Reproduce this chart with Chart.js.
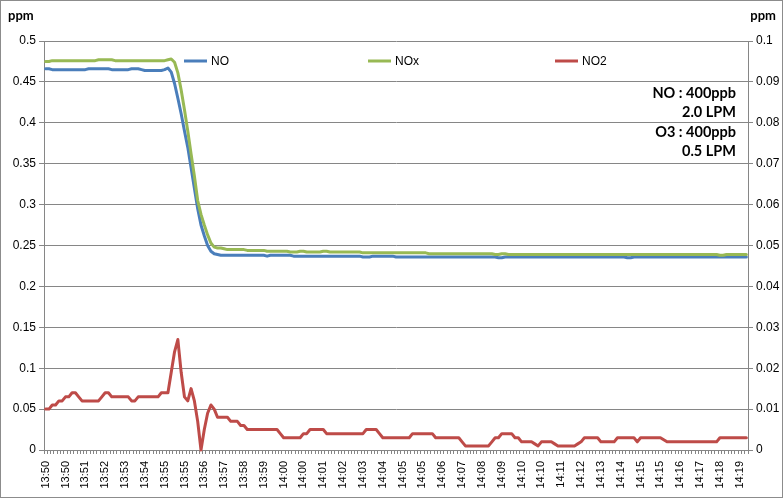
<!DOCTYPE html>
<html>
<head>
<meta charset="utf-8">
<script src="https://cdn.jsdelivr.net/npm/chart.js@4/dist/chart.umd.min.js"></script>
<style>
html, body { margin: 0; padding: 0; background: #fff; }
#wrap { width: 783px; height: 498px; box-sizing: border-box; border: 1px solid #8c8c8c; }
canvas { display: block; }
</style>
</head>
<body>
<div id="wrap"><canvas id="chart" width="781" height="496"></canvas></div>
<script>
// one label every 6 samples
const tickLabels = ['13:50','13:50','13:51','13:52','13:53','13:54','13:55','13:55','13:56','13:57','13:58','13:59',
	'14:00','14:00','14:01','14:02','14:03','14:04','14:05','14:05','14:06','14:07','14:08','14:09',
	'14:10','14:10','14:11','14:12','14:13','14:14','14:15','14:15','14:16','14:17','14:18','14:19'];
const samplesPerLabel = 6;

const noValues = [
	0.466,0.466,0.465,0.465,0.465,0.465,0.465,0.465,0.465,0.465,
	0.465,0.465,0.465,0.466,0.466,0.466,0.466,0.466,0.466,0.466,
	0.465,0.465,0.465,0.465,0.465,0.465,0.466,0.466,0.466,0.465,
	0.464,0.464,0.464,0.464,0.464,0.464,0.465,0.467,0.462,0.448,
	0.430,0.411,0.390,0.370,0.345,0.320,0.295,0.275,0.262,0.250,
	0.243,0.240,0.239,0.238,0.238,0.238,0.238,0.238,0.238,0.238,
	0.238,0.238,0.238,0.238,0.238,0.238,0.238,0.237,0.238,0.238,
	0.238,0.238,0.238,0.238,0.238,0.237,0.237,0.237,0.237,0.237,
	0.237,0.237,0.237,0.237,0.237,0.237,0.237,0.237,0.237,0.237,
	0.237,0.237,0.237,0.237,0.237,0.237,0.236,0.236,0.236,0.237,
	0.237,0.237,0.237,0.237,0.237,0.237,0.236,0.236,0.236,0.236,
	0.236,0.236,0.236,0.236,0.236,0.236,0.236,0.236,0.236,0.236,
	0.236,0.236,0.236,0.236,0.236,0.236,0.236,0.236,0.236,0.236,
	0.236,0.236,0.236,0.236,0.236,0.236,0.236,0.235,0.235,0.236,
	0.236,0.236,0.236,0.236,0.236,0.236,0.236,0.236,0.236,0.236,
	0.236,0.236,0.236,0.236,0.236,0.236,0.236,0.236,0.236,0.236,
	0.236,0.236,0.236,0.236,0.236,0.236,0.236,0.236,0.236,0.236,
	0.236,0.236,0.236,0.236,0.236,0.236,0.235,0.235,0.236,0.236,
	0.236,0.236,0.236,0.236,0.236,0.236,0.236,0.236,0.236,0.236,
	0.236,0.236,0.236,0.236,0.236,0.236,0.236,0.236,0.236,0.236,
	0.236,0.236,0.236,0.236,0.236,0.236,0.236,0.236,0.236,0.236,
	0.236,0.236,0.236
];

const noxValues = [
	0.475,0.475,0.476,0.476,0.476,0.476,0.476,0.476,0.476,0.476,
	0.476,0.476,0.476,0.476,0.476,0.476,0.477,0.477,0.477,0.477,
	0.477,0.476,0.476,0.476,0.476,0.476,0.476,0.476,0.476,0.476,
	0.476,0.476,0.476,0.476,0.476,0.476,0.476,0.477,0.478,0.474,
	0.461,0.440,0.416,0.390,0.362,0.335,0.305,0.288,0.275,0.263,
	0.253,0.248,0.247,0.247,0.246,0.245,0.245,0.245,0.245,0.245,
	0.245,0.244,0.244,0.244,0.244,0.244,0.244,0.243,0.243,0.243,
	0.243,0.243,0.243,0.243,0.242,0.242,0.242,0.243,0.243,0.242,
	0.242,0.242,0.242,0.242,0.243,0.243,0.242,0.242,0.242,0.242,
	0.242,0.242,0.242,0.242,0.242,0.242,0.241,0.241,0.241,0.241,
	0.241,0.241,0.241,0.241,0.241,0.241,0.241,0.241,0.241,0.241,
	0.241,0.241,0.241,0.241,0.241,0.241,0.240,0.240,0.240,0.240,
	0.240,0.240,0.240,0.240,0.240,0.240,0.240,0.240,0.240,0.240,
	0.240,0.240,0.240,0.240,0.240,0.240,0.239,0.239,0.240,0.240,
	0.239,0.239,0.239,0.239,0.239,0.239,0.239,0.239,0.239,0.239,
	0.239,0.239,0.239,0.239,0.239,0.239,0.239,0.239,0.239,0.239,
	0.239,0.239,0.239,0.239,0.239,0.239,0.239,0.239,0.239,0.239,
	0.239,0.239,0.239,0.239,0.239,0.239,0.239,0.239,0.239,0.239,
	0.239,0.239,0.239,0.239,0.239,0.239,0.239,0.239,0.239,0.239,
	0.239,0.239,0.239,0.239,0.239,0.239,0.239,0.239,0.239,0.239,
	0.239,0.239,0.239,0.239,0.238,0.238,0.239,0.239,0.239,0.239,
	0.239,0.239,0.239
];

// NO2 is read on the right axis
const no2Values = [
	0.010,0.010,0.011,0.011,0.012,0.012,0.013,0.013,0.014,0.014,
	0.013,0.012,0.012,0.012,0.012,0.012,0.012,0.013,0.014,0.014,
	0.013,0.013,0.013,0.013,0.013,0.013,0.012,0.012,0.013,0.013,
	0.013,0.013,0.013,0.013,0.013,0.014,0.014,0.014,0.019,0.024,
	0.027,0.019,0.013,0.012,0.015,0.012,0.007,0.000,0.005,0.009,
	0.011,0.010,0.008,0.008,0.008,0.008,0.007,0.007,0.007,0.006,
	0.006,0.005,0.005,0.005,0.005,0.005,0.005,0.005,0.005,0.005,
	0.005,0.004,0.003,0.003,0.003,0.003,0.003,0.003,0.004,0.004,
	0.005,0.005,0.005,0.005,0.005,0.004,0.004,0.004,0.004,0.004,
	0.004,0.004,0.004,0.004,0.004,0.004,0.004,0.005,0.005,0.005,
	0.005,0.004,0.003,0.003,0.003,0.003,0.003,0.003,0.003,0.003,
	0.003,0.004,0.004,0.004,0.004,0.004,0.004,0.004,0.003,0.003,
	0.003,0.003,0.003,0.003,0.003,0.003,0.002,0.001,0.001,0.001,
	0.001,0.001,0.001,0.001,0.001,0.002,0.003,0.003,0.004,0.004,
	0.004,0.004,0.003,0.003,0.002,0.002,0.002,0.002,0.0015,0.001,
	0.002,0.002,0.002,0.002,0.0015,0.001,0.001,0.001,0.001,0.001,
	0.001,0.0015,0.002,0.003,0.003,0.003,0.003,0.003,0.002,0.002,
	0.002,0.002,0.002,0.003,0.003,0.003,0.003,0.003,0.003,0.002,
	0.003,0.003,0.003,0.003,0.003,0.003,0.003,0.0025,0.002,0.002,
	0.002,0.002,0.002,0.002,0.002,0.002,0.002,0.002,0.002,0.002,
	0.002,0.002,0.002,0.002,0.003,0.003,0.003,0.003,0.003,0.003,
	0.003,0.003,0.003
];

const noteLines = ['NO : 400ppb', '2.0 LPM', 'O3 : 400ppb', '0.5 LPM'];

const categories = noValues.map((v, i) =>
	i % samplesPerLabel === 0 && tickLabels[i / samplesPerLabel] ? tickLabels[i / samplesPerLabel] : '');

const gridGray = '#868686';
const xFont = { family: "'Liberation Sans', Arial, sans-serif", size: 11 };
const yFont = { family: "'Liberation Sans', Arial, sans-serif", size: 12 };

// legend inside the plot, unit titles and the test conditions note
const overlay = {
	id: 'overlay',
	afterDraw(chart) {
		const ctx = chart.ctx;
		const area = chart.chartArea;
		ctx.save();
		ctx.fillStyle = '#000';
		ctx.textBaseline = 'middle';

		ctx.font = "bold 13px Lato, 'Open Sans', sans-serif";
		ctx.textAlign = 'left';
		ctx.fillText('ppm', 7, 15);
		ctx.textAlign = 'right';
		ctx.fillText('ppm', 775, 15);

		const legendX = [140, 324, 511];
		ctx.font = "12px 'Liberation Sans', Arial, sans-serif";
		ctx.textAlign = 'left';
		chart.data.datasets.forEach((ds, i) => {
			const x = area.left + legendX[i];
			const y = 60;
			ctx.strokeStyle = ds.borderColor;
			ctx.lineWidth = 3;
			ctx.beginPath();
			ctx.moveTo(x, y);
			ctx.lineTo(x + 23, y);
			ctx.stroke();
			ctx.fillText(ds.label, x + 27, y + 1);
		});

		ctx.font = "bold 14.5px Lato, 'Open Sans', sans-serif";
		ctx.textAlign = 'right';
		const noteY = [92, 111.5, 131, 150];
		noteLines.forEach((t, i) => ctx.fillText(t, 735, noteY[i]));
		ctx.restore();
	}
};

new Chart(document.getElementById('chart'), {
	type: 'line',
	data: {
		labels: categories,
		datasets: [
			{ label: 'NO', data: noValues, yAxisID: 'y', borderColor: '#4a7ebb', order: 3 },
			{ label: 'NOx', data: noxValues, yAxisID: 'y', borderColor: '#98b954', order: 2 },
			{ label: 'NO2', data: no2Values, yAxisID: 'y1', borderColor: '#be4b48', order: 1 },
		],
	},
	options: {
		responsive: false,
		animation: false,
		layout: { padding: { top: 40, left: 0, right: 0, bottom: 0 } },
		elements: {
			point: { radius: 0 },
			line: { borderWidth: 3, tension: 0, borderJoinStyle: 'round', borderCapStyle: 'round', fill: false },
		},
		datasets: { line: { clip: false } },
		plugins: {
			legend: { display: false },
			tooltip: { enabled: false },
		},
		scales: {
			x: {
				offset: true,
				afterFit(scale) { scale.height = 47; },
				grid: { offset: true, drawOnChartArea: false, tickLength: 4, color: gridGray },
				border: { color: gridGray },
				ticks: {
					autoSkip: false,
					minRotation: 90,
					maxRotation: 90,
					padding: 7,
					color: '#000',
					font: xFont,
				},
			},
			y: {
				position: 'left',
				min: 0,
				max: 0.5,
				afterFit(scale) { scale.width = 43; },
				grid: { color: gridGray, tickLength: 5 },
				border: { color: gridGray },
				ticks: {
					stepSize: 0.05,
					padding: 3,
					color: '#000',
					font: yFont,
					callback: v => String(+v.toFixed(3)),
				},
			},
			y1: {
				position: 'right',
				min: 0,
				max: 0.1,
				afterFit(scale) { scale.width = 34; },
				grid: { drawOnChartArea: false, color: gridGray, tickLength: 5 },
				border: { color: gridGray },
				ticks: {
					stepSize: 0.01,
					padding: 3,
					color: '#000',
					font: yFont,
					callback: v => String(+v.toFixed(3)),
				},
			},
		},
	},
	plugins: [overlay],
});
</script>
</body>
</html>
